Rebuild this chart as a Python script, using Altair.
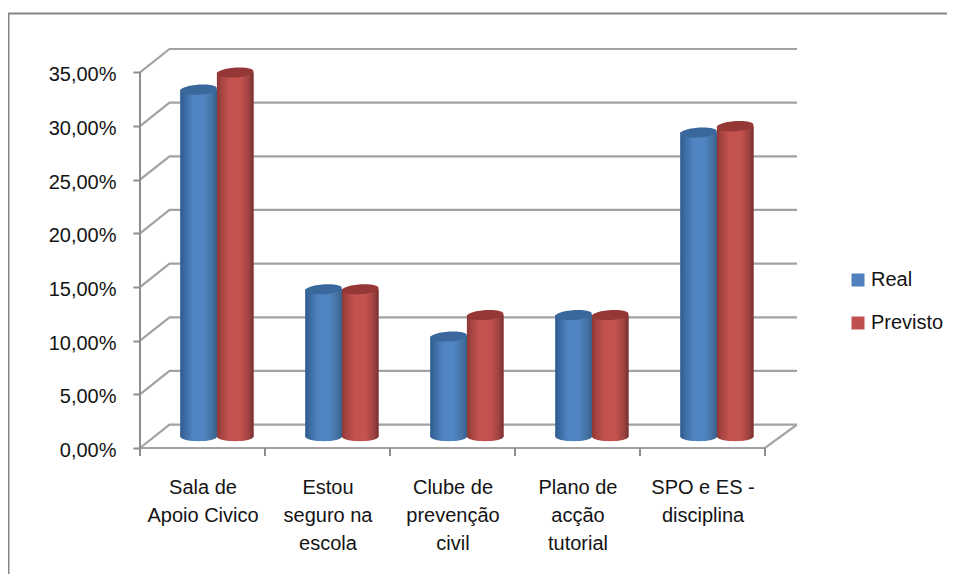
import altair as alt
import pandas as pd

categories = ["Sala de|Apoio Civico", "Estou|seguro na|escola", "Clube de|prevenção|civil", "Plano de|acção|tutorial", "SPO e ES -|disciplina"]
real = [32.3, 13.7, 9.3, 11.3, 28.3]
previsto = [33.9, 13.7, 11.3, 11.3, 28.9]
series = ["Real", "Previsto"]
ticks = [0, 5, 10, 15, 20, 25, 30, 35]

FONT = "Liberation Sans"
FS = 20
DEPTH_Y = 2.18
DEPTH_XL = 0.236
X_MAX = 5.256
Y_MAX = 37.18
BAR_W = 0.2925
BAR_START = 0.323
GRID = "#a2a2a2"
AXIS = "#8e8e8e"
TEXT = "#141414"

rows = []
for i in range(5):
    for s, vals, off in ((series[0], real, 0), (series[1], previsto, 1)):
        x0 = i + BAR_START + off * BAR_W
        rows.append(dict(serie=s, value=vals[i], x0=x0, x1=x0 + BAR_W, xc=x0 + BAR_W / 2,
                         base=DEPTH_Y / 2, top=vals[i] + DEPTH_Y / 2))
bars = pd.DataFrame(rows)

grid_rows = []
for t in ticks:
    grid_rows += [dict(t=t, x=0, y=t, o=0), dict(t=t, x=DEPTH_XL, y=t + DEPTH_Y, o=1), dict(t=t, x=X_MAX, y=t + DEPTH_Y, o=2)]
grid_rows += [dict(t=-1, x=0, y=0, o=0), dict(t=-1, x=5, y=0, o=1), dict(t=-1, x=X_MAX, y=DEPTH_Y, o=2)]
grid = pd.DataFrame(grid_rows)

xs = alt.Scale(domain=[0, X_MAX], nice=False, zero=False)
ys = alt.Scale(domain=[0, Y_MAX], nice=False, zero=False)
label_list = "[" + ",".join("'" + c + "'" for c in categories) + "]"

x_axis = alt.Axis(values=[i + 0.5 for i in range(5)], title=None, domain=False, ticks=False, grid=False,
                  labelExpr=f"split({label_list}[floor(datum.value)], '|')",
                  labelFont=FONT, labelFontSize=FS, labelColor=TEXT, labelPadding=29,
                  labelLineHeight=28, labelAngle=0, labelFlush=False, labelOverlap=False)
y_axis = alt.Axis(values=ticks, title=None, domain=False, grid=False, tickColor=AXIS, tickWidth=2, tickSize=7,
                  labelExpr="replace(format(datum.value, '.2f'), '.', ',') + '%'",
                  labelFont=FONT, labelFontSize=FS, labelColor=TEXT, labelPadding=17, labelOverlap=False, labelOffset=2.5)

X = lambda f, **k: alt.X(f, scale=xs, **k)
Y = lambda f, **k: alt.Y(f, scale=ys, **k)

axes_layer = alt.Chart(grid[grid.t == 0].head(1)).mark_point(opacity=0).encode(
    x=X("x:Q", axis=x_axis), y=Y("y:Q", axis=y_axis))

grid_layer = alt.Chart(grid).mark_line(color=GRID, strokeWidth=2.2, clip=False).encode(
    x=X("x:Q"), y=Y("y:Q"), detail="t:N", order="o:Q")

yaxis_line = alt.Chart(pd.DataFrame({"x": [0], "y": [0], "y2": [35]})).mark_rule(color=AXIS, strokeWidth=2).encode(
    x=X("x:Q"), y=Y("y:Q"), y2="y2:Q")

xticks = alt.Chart(pd.DataFrame({"x": list(range(6))})).mark_rule(color=AXIS, strokeWidth=2).encode(
    x=X("x:Q"), y=alt.value(399), y2=alt.value(407))


def grad(stops):
    return alt.LinearGradient(gradient="linear", x1=0, x2=1, y1=0, y2=0,
                              stops=[alt.GradientStop(offset=o, color=c) for o, c in stops])


g_blue = grad([(0, "#2f5a8c"), (0.12, "#3c6aa2"), (0.35, "#5084c2"), (0.65, "#5084c2"), (0.88, "#44719f"), (1, "#365f8e")])
g_red = grad([(0, "#8c3835"), (0.12, "#a64441"), (0.35, "#c4524f"), (0.65, "#c4524f"), (0.88, "#9c4240"), (1, "#75302e")])

base_bars = alt.Chart(bars).mark_bar().encode(
    x=X("x0:Q"), x2="x1:Q", y=Y("base:Q"), y2="top:Q",
    color=alt.Color("serie:N", scale=alt.Scale(domain=series, range=["#4f81bd", "#c0504d"]),
                    legend=alt.Legend(title=None, orient="none", legendX=708, legendY=221, symbolType="square",
                                      symbolSize=169, symbolStrokeWidth=0, labelFont=FONT, labelFontSize=FS,
                                      labelColor=TEXT, rowPadding=23, labelOffset=3, padding=0)))

ELLIPSE = "M-1,0 C-1,-0.36 1,-0.36 1,0 C1,0.36 -1,0.36 -1,0 Z"
SIZE = 1340
layers = [axes_layer, grid_layer, yaxis_line, xticks, base_bars]
for s, g, top_col in ((series[0], g_blue, "#3a689c"), (series[1], g_red, "#953735")):
    d = bars[bars.serie == s]
    layers.append(alt.Chart(d).mark_point(shape=ELLIPSE, size=SIZE, filled=True, fill=g, opacity=1, strokeWidth=0).encode(
        x=X("xc:Q"), y=Y("base:Q")))
    layers.append(alt.Chart(d).mark_bar(fill=g).encode(x=X("x0:Q"), x2="x1:Q", y=Y("base:Q"), y2="top:Q"))
    layers.append(alt.Chart(d).mark_point(shape=ELLIPSE, size=SIZE, filled=True, fill=top_col, opacity=1, strokeWidth=0, angle=356).encode(
        x=X("xc:Q"), y=Y("top:Q")))

frame = pd.DataFrame({"k": ["a"]})
frame_top = alt.Chart(frame).mark_rule(color="#868686", strokeWidth=2, clip=False).encode(
    x=alt.value(-132), x2=alt.value(807), y=alt.value(-35.5))
frame_left = alt.Chart(frame).mark_rule(color="#868686", strokeWidth=2, clip=False).encode(
    x=alt.value(-131.5), y=alt.value(-36), y2=alt.value(525))
layers += [frame_top, frame_left]

chart = alt.layer(*layers).resolve_scale(color="independent").properties(
    width=657, height=399,
    autosize=alt.AutoSizeParams(type="none"),
    padding={"left": 132, "top": 41, "right": 150, "bottom": 126},
    background="white",
).configure_view(stroke=None)

chart.save("out.html", embed_options={"renderer": "svg", "actions": False})
